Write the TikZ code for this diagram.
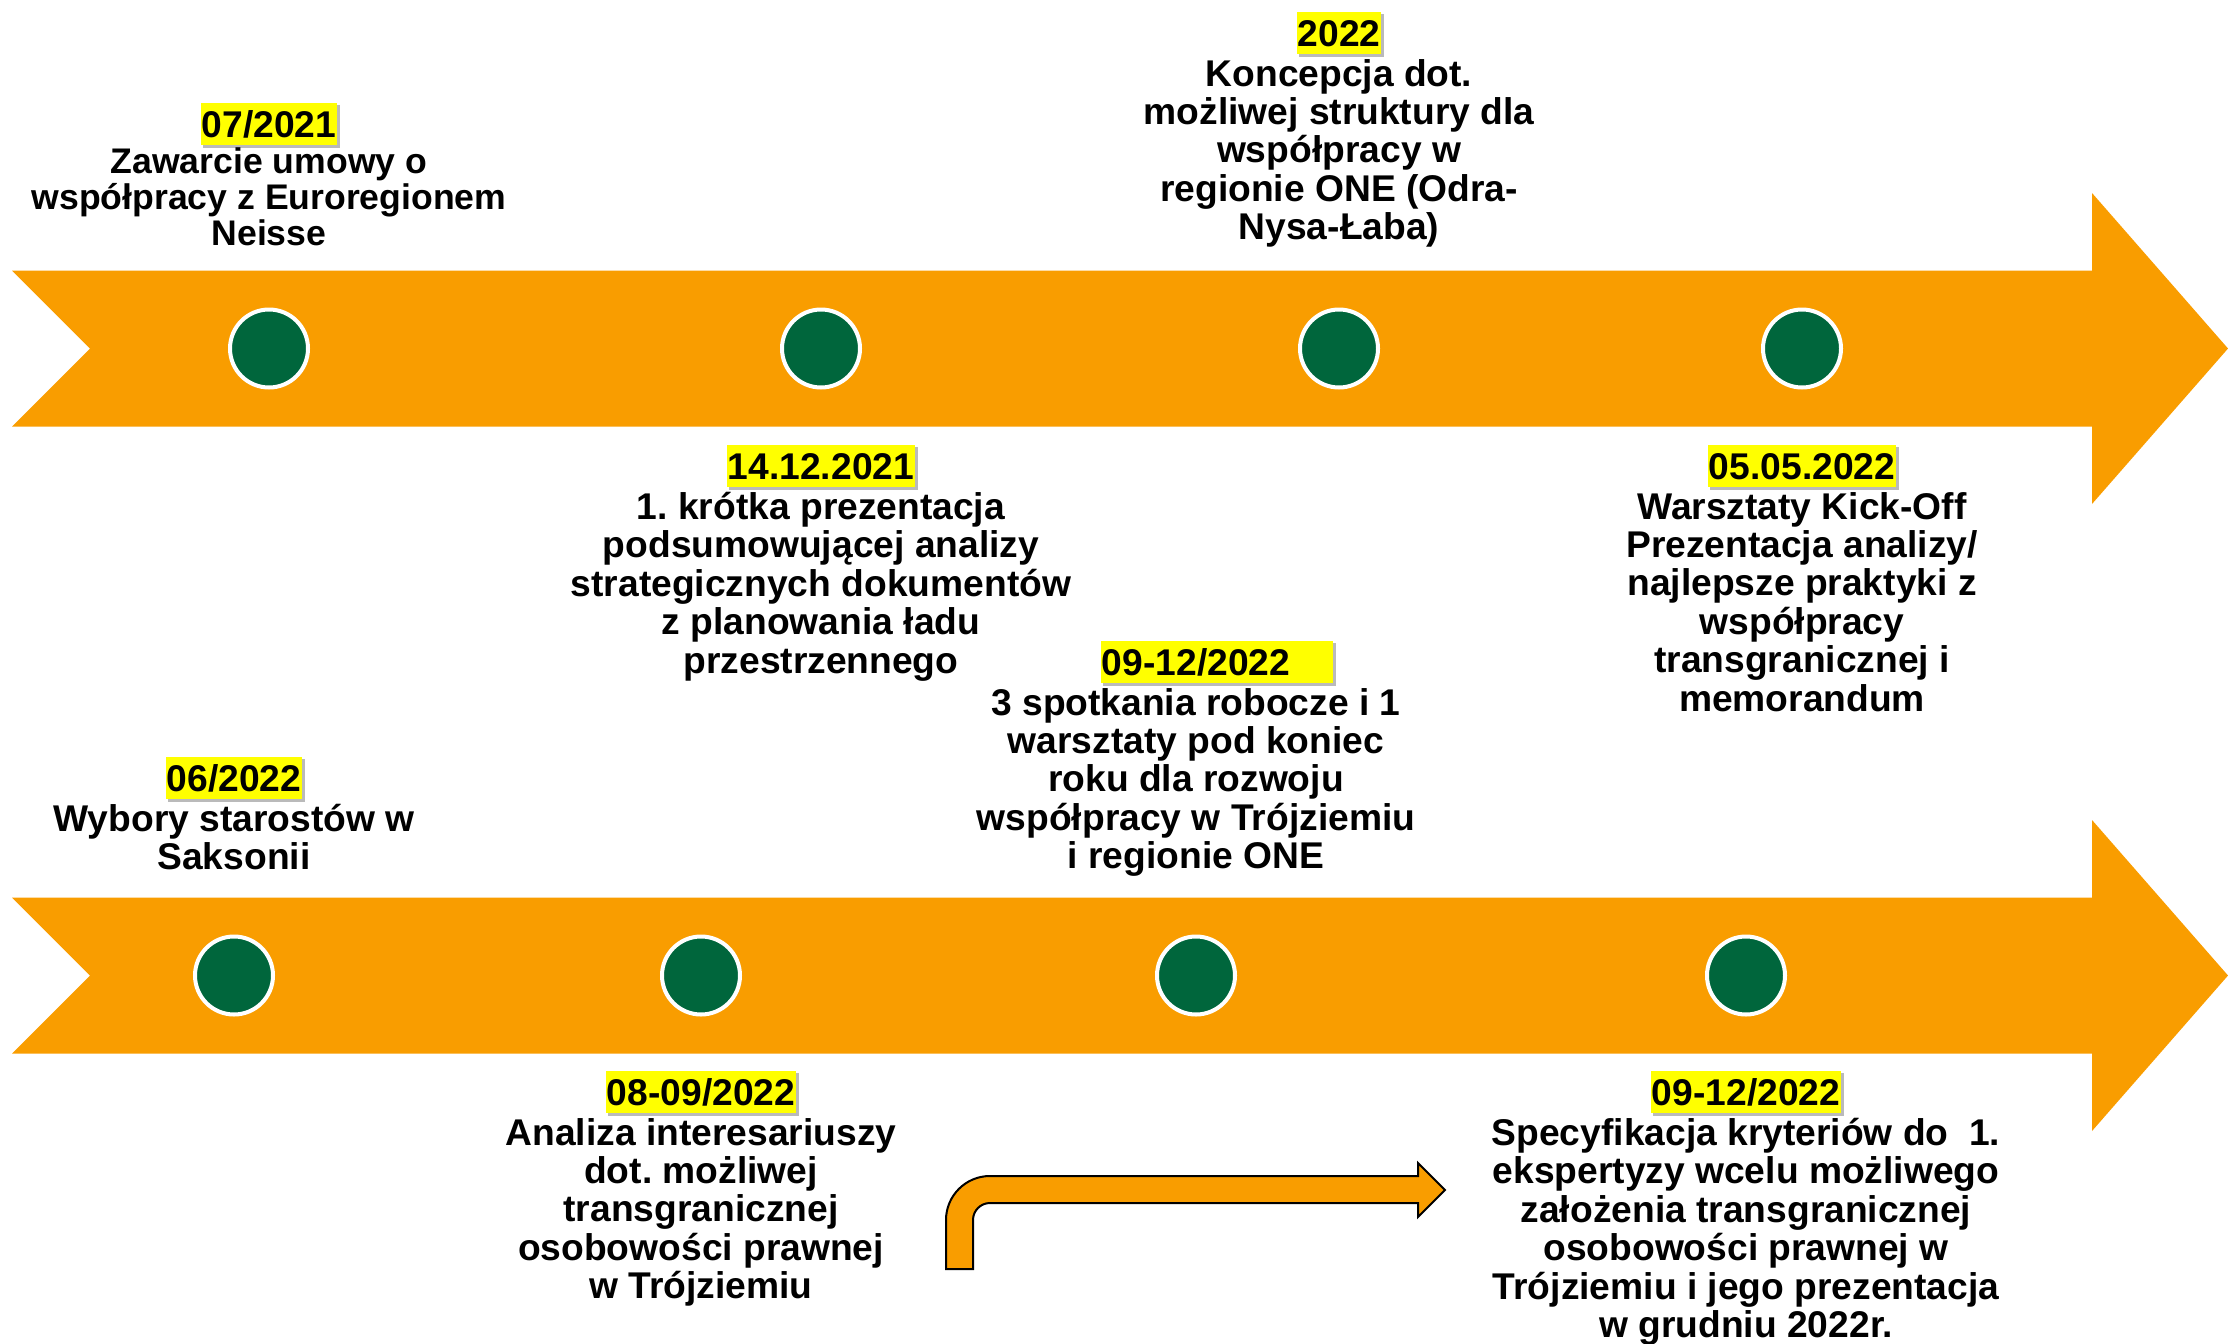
\documentclass[tikz,border=0pt]{standalone}
\usepackage{fontspec}
\setmainfont{Liberation Sans}
\usetikzlibrary{positioning,shadows}
\definecolor{bandorange}{HTML}{F99D00}
\definecolor{dotgreen}{HTML}{00663C}
\definecolor{dateyellow}{HTML}{FFFF00}
\def\bandHalf{78}
\def\headHalf{155.5}
\frenchspacing

\begin{document}
\begin{tikzpicture}[
    x=0.5pt, y=-0.5pt,
    band/.style={fill=bandorange},
    dot/.style={
      circle, fill=dotgreen, draw=white, line width=2pt,
      minimum size=39pt, inner sep=0pt
    },
    datebox/.style={
      fill=dateyellow, font=\bfseries\fontsize{18.6}{19.2}\selectfont,
      text height=13.4pt, text depth=0.4pt, inner xsep=0.5pt, inner ysep=3.8pt,
      drop shadow={shadow xshift=1.2pt, shadow yshift=-1.2pt, fill=black!45, opacity=0.6}
    },
    desc/.style={
      align=center, inner sep=0pt, yshift=-2pt,
      font=\bfseries\fontsize{18.6}{19.2}\selectfont,
      execute at begin node=\rule{0pt}{16pt}
    }
  ]
    \useasboundingbox (0,0) rectangle (2228,1344);

    % the two timeline bands
    \foreach \yc in {348.5,975.5} {
      \fill[band] (12,\yc-\bandHalf) -- (2092,\yc-\bandHalf) -- (2092,\yc-\headHalf)
        -- (2228,\yc) -- (2092,\yc+\headHalf) -- (2092,\yc+\bandHalf)
        -- (12,\yc+\bandHalf) -- (90,\yc) -- cycle;
    }

    \node[dot] (C1) at (269,348.5) {};
    \node[dot] (C2) at (821,348.5) {};
    \node[dot] (C3) at (1339,348.5) {};
    \node[dot] (C4) at (1802,348.5) {};
    \node[dot] (C5) at (234,975.5) {};
    \node[dot] (C6) at (701,975.5) {};
    \node[dot] (C7) at (1196,975.5) {};
    \node[dot] (C8) at (1746,975.5) {};

    % upper row
    \node[datebox] (D1) at (269,124) {07/2021};
    \node[desc, below=0pt of D1, yshift=1.5pt, font=\bfseries\fontsize{17.8}{18}\selectfont] (T1)
      {Zawarcie umowy o\\współpracy z Euroregionem\\Neisse};

    \node[datebox] (D2) at (1339,33) {2022};
    \node[desc, below=0pt of D2] (T2)
      {Koncepcja dot.\\możliwej struktury dla\\współpracy w\\regionie ONE (Odra-\\Nysa-Łaba)};

    \node[datebox] (D3) at (821,466) {14.12.2021};
    \node[desc, below=0pt of D3] (T3)
      {1. krótka prezentacja\\podsumowującej analizy\\strategicznych dokumentów\\z planowania ładu\\przestrzennego};

    \node[datebox] (D4) at (1802,466) {05.05.2022};
    \node[desc, below=0pt of D4] (T4)
      {Warsztaty Kick-Off\\Prezentacja analizy/\\najlepsze praktyki z\\współpracy\\transgranicznej i\\memorandum};

    \node[datebox] (D5) at (1217,662) {09-12/2022\rule{21pt}{0pt}};
    \node[desc, below=0pt of D5, xshift=-10.5pt] (T5)
      {3 spotkania robocze i 1\\warsztaty pod koniec\\roku dla rozwoju\\współpracy w Trójziemiu\\i regionie ONE};

    % lower row
    \node[datebox] (D6) at (234,778) {06/2022};
    \node[desc, below=0pt of D6] (T6) {Wybory starostów w\\Saksonii};

    \node[datebox] (D7) at (701,1092) {08-09/2022};
    \node[desc, below=0pt of D7] (T7)
      {Analiza interesariuszy\\dot. możliwej\\transgranicznej\\osobowości prawnej\\w Trójziemiu};

    \node[datebox] (D8) at (1746,1092) {09-12/2022};
    \node[desc, below=0pt of D8] (T8)
      {Specyfikacja kryteriów do\ \ 1.\\ekspertyzy wcelu możliwego\\założenia transgranicznej\\osobowości prawnej w\\Trójziemiu i jego prezentacja\\w grudniu 2022r.};

    % bent arrow between the lower texts
    \draw[band, draw=black, line width=1pt] (946,1269) -- (946,1220)
      arc[start angle=180, end angle=270, radius=44] -- (1418,1176) -- (1418,1163)
      -- (1445,1190) -- (1418,1217) -- (1418,1203) -- (990,1203)
      arc[start angle=270, end angle=180, radius=17] -- (973,1269) -- cycle;
  \end{tikzpicture}
\end{document}
